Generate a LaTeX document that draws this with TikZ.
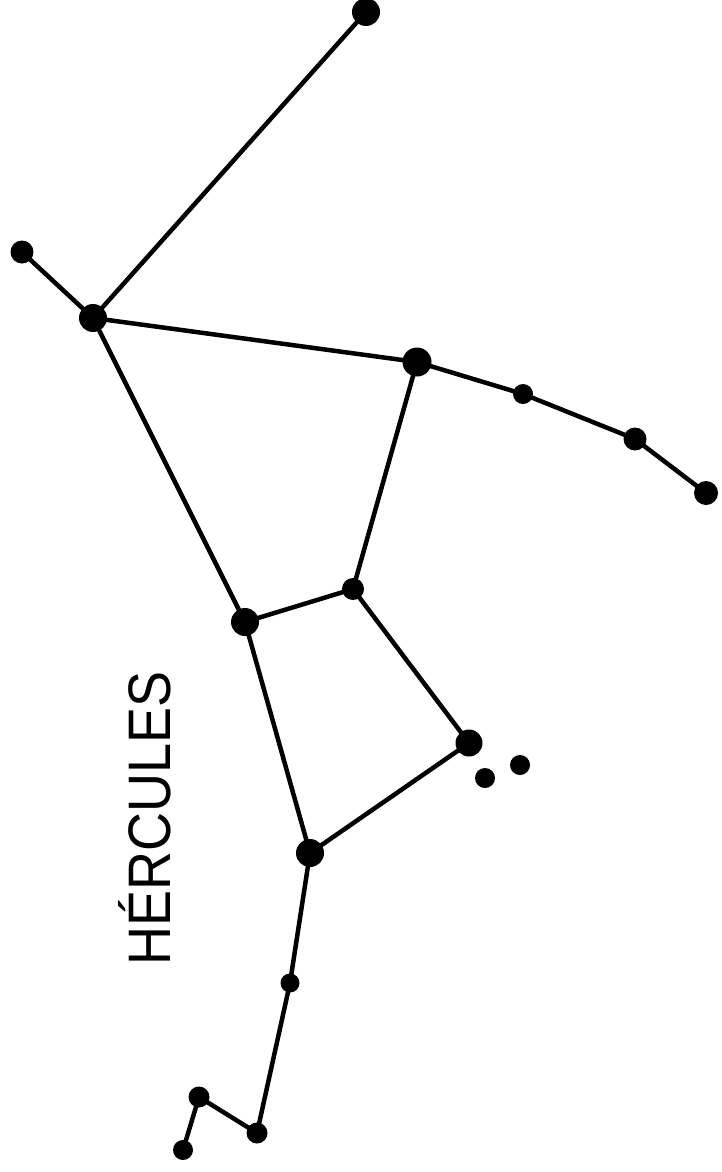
\documentclass[tikz,border=0pt]{standalone}
\usepackage{fontspec}
\setmainfont{Liberation Sans}
\begin{document}
\begin{tikzpicture}[x=1pt,y=-1pt,
  star/.style={circle,fill=black,inner sep=0pt,minimum size=#1},
  edge/.style={line width=4.5pt,line cap=round}]
\useasboundingbox (0,0) rectangle (722,1172);
\node[star=28] (A) at (366,12) {};
\node[star=23] (B) at (22,252) {};
\node[star=28] (C) at (93,318) {};
\node[star=29] (D) at (417,362) {};
\node[star=20] (E) at (523,394) {};
\node[star=23] (F) at (635,439) {};
\node[star=24] (G) at (706,493) {};
\node[star=22] (H) at (353,589) {};
\node[star=28] (I) at (245,622) {};
\node[star=27] (J) at (469,743) {};
\node[star=20] (K) at (520,765) {};
\node[star=20] (L) at (485,778) {};
\node[star=28] (M) at (310,853) {};
\node[star=19] (N) at (290,983) {};
\node[star=21] (O) at (257,1133) {};
\node[star=21] (P) at (199,1097) {};
\node[star=20] (Q) at (183,1150) {};
\draw[edge] (A.center) -- (C.center);
\draw[edge] (B.center) -- (C.center);
\draw[edge] (C.center) -- (D.center) -- (E.center) -- (F.center) -- (G.center);
\draw[edge] (C.center) -- (I.center);
\draw[edge] (D.center) -- (H.center) -- (I.center);
\draw[edge] (H.center) -- (J.center) -- (M.center);
\draw[edge] (I.center) -- (M.center) -- (N.center) -- (O.center) -- (P.center) -- (Q.center);
\node[rotate=90,anchor=base west,inner sep=0pt] (T) at (170,966)
  {\scalebox{0.9}[1]{\fontsize{60}{62}\selectfont HÉRCULES}};
\end{tikzpicture}
\end{document}
